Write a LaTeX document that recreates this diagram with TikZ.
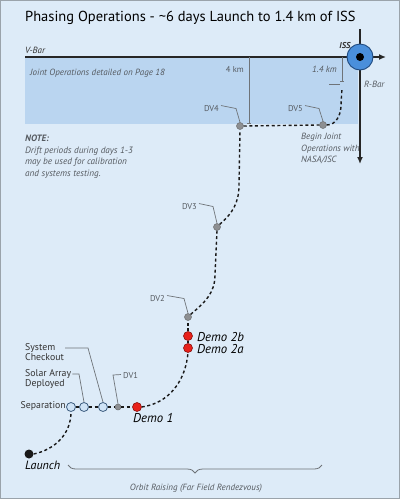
\documentclass[tikz,border=0pt]{standalone}
\usepackage{fontspec}
\setmainfont{PT Sans}
\usetikzlibrary{arrows.meta,decorations.pathreplacing}
\definecolor{bgblue}{HTML}{DDEBF8}
\definecolor{shadeblue}{HTML}{BAD5F0}
\definecolor{frame}{HTML}{9AA3AB}
\definecolor{issblue}{HTML}{4A8FDB}
\definecolor{issedge}{HTML}{1F4A80}
\definecolor{dotgray}{HTML}{8D8F92}
\definecolor{dotedge}{HTML}{6B6D70}
\definecolor{demored}{HTML}{E8211B}
\definecolor{rededge}{HTML}{8A1410}
\definecolor{lightdot}{HTML}{CFE3F6}
\definecolor{lightedge}{HTML}{3E5E80}
\definecolor{labgray}{HTML}{555A60}
\definecolor{leadgray}{HTML}{6E7378}
\begin{document}
\begin{tikzpicture}[x=1pt,y=-1pt,
  txt/.style={inner sep=0pt,font=\fontsize{9}{10}\selectfont\itshape,text=labgray},
  dvlab/.style={inner sep=0pt,font=\fontsize{8.5}{10}\selectfont,text=labgray},
  leftlab/.style={inner sep=0pt,font=\fontsize{9.8}{10}\selectfont,text=black!80,align=left},
  demolab/.style={inner sep=0pt,font=\fontsize{12.8}{14}\selectfont\itshape,text=black},
  leader/.style={draw=leadgray,line width=0.7pt},
  traj/.style={draw=black!90,line width=1.4pt,dash pattern=on 3pt off 2.6pt},
  graydot/.style={circle,inner sep=0pt,minimum size=7pt,fill=dotgray,draw=dotedge,line width=0.5pt},
  reddot/.style={circle,inner sep=0pt,minimum size=9pt,fill=demored,draw=rededge,line width=0.6pt},
  lightcirc/.style={circle,inner sep=0pt,minimum size=9pt,fill=lightdot,draw=lightedge,line width=0.8pt},
  blackdot/.style={circle,inner sep=0pt,minimum size=9pt,fill=black!90},
  axisline/.style={draw=black!85,line width=1.3pt,-{Latex[length=7pt,width=6pt]}}
]
\useasboundingbox (0,0) rectangle (400,499);
\fill[bgblue] (0,0) rectangle (400,499);
\draw[frame,line width=1.2pt] (0.6,0.6) rectangle (399.4,498.4);

% title
\node[inner sep=0pt,anchor=west,font=\fontsize{14.5}{16}\selectfont,text=black] (title) at (25,18)
  {Phasing Operations - \textasciitilde 6 days Launch to 1.4 km of ISS};

% shaded area
\fill[shadeblue] (25,57) rectangle (358,124);

% V-Bar
\node[txt,anchor=base west,text=black!80] (vbar) at (25,53) {V-Bar};
\coordinate (vstart) at (25,57);
\coordinate (vend) at (386,57);
\draw[axisline] (vstart) -- (vend);

% R-Bar
\coordinate (rstart) at (360,29);
\coordinate (rend) at (360,164);
\draw[axisline] (rstart) -- (rend);
\node[txt,anchor=base west,text=labgray] (rbar) at (364,87) {R-Bar};

% ISS
\node[circle,minimum size=26pt,inner sep=0pt,fill=issblue,draw=issedge,line width=0.9pt] (iss) at (360,57) {};
\node[circle,minimum size=8pt,inner sep=0pt,fill=black] (isscore) at (360,57) {};
\node[txt,anchor=base,text=black!80,font=\fontsize{8.5}{9}\selectfont\itshape\bfseries] (isslab) at (345,48) {ISS};

% joint operations text
\node[txt,anchor=base west] (joint) at (30,75) {Joint Operations detailed on Page 18};

% 4 km
\coordinate (fk1) at (249,57);
\coordinate (fk2) at (249,123);
\draw[leader,line width=0.8pt] (fk1) -- (fk2);
\draw[leader,line width=0.8pt] (247,123) -- (251,123);
\node[dvlab,anchor=base east] (fourkm) at (244,72) {4 km};

% 1.4 km
\coordinate (ok1) at (342,57);
\coordinate (ok2) at (342,81);
\draw[leader,line width=0.8pt] (ok1) -- (ok2);
\draw[leader,line width=0.8pt] (340,81) -- (344,81);
\coordinate (okt1) at (329,84);
\coordinate (okt2) at (340,84);
\draw[leader] (okt1) -- (okt2);
\node[txt,anchor=base east] (onekm) at (337,72) {1.4 km};
\coordinate (pend) at (342,88);

% note
\node[inner sep=0pt,anchor=north west,align=left,font=\fontsize{9.2}{11.6}\selectfont\itshape,text=labgray] (note) at (25,135)
  {{\bfseries NOTE:}\\Drift periods during days 1-3\\may be used for calibration\\and systems testing.};

% begin joint
\node[inner sep=0pt,anchor=north west,align=left,font=\fontsize{9}{11.6}\selectfont\itshape,text=labgray] (begin) at (301,133)
  {Begin Joint\\Operations with\\NASA/JSC};

% dots
\node[blackdot] (launch) at (29,454) {};
\node[lightcirc] (sep) at (71,407) {};
\node[lightcirc] (solar) at (84,407) {};
\node[lightcirc] (sys) at (103,407) {};
\node[graydot,minimum size=6pt] (dv1) at (118,407) {};
\node[reddot] (demo1) at (137,407) {};
\node[reddot] (demo2a) at (188,348) {};
\node[reddot] (demo2b) at (188,336) {};
\node[graydot] (dv2) at (188,317) {};
\node[graydot] (dv3) at (217,227) {};
\node[graydot] (dv4) at (240,126) {};
\node[graydot] (dv5) at (323,125) {};

% trajectory
\draw[traj] (launch.east) to[out=12,in=-90] (sep.south);
\draw[traj] (sep.east) -- (solar.west);
\draw[traj] (solar.east) -- (sys.west);
\draw[traj] (sys.east) -- (dv1.west);
\draw[traj] (dv1.east) -- (demo1.west);
\draw[traj] (demo1.east) to[out=8,in=-95] (demo2a.south);
\draw[traj] (demo2a.north) -- (demo2b.south);
\draw[traj] (demo2b.north) -- (dv2.south);
\draw[traj] (dv2.north east) to[out=40,in=-90] (215,275) -- (dv3.south);
\draw[traj] (dv3.north east) to[out=40,in=-90] (239,185) -- (dv4.south);
\draw[traj] (dv4.east) -- (dv5.west);
\draw[traj] (dv5.east) to[out=0,in=-90] (341,105) -- (pend);

% labels
\node[dvlab,anchor=base east] (dv4lab) at (219,111) {DV4};
\draw[leader] (dv4lab.east) ++(2,-2.5) -- (236,108.5) -- (dv4.north);
\node[dvlab,anchor=base east] (dv5lab) at (303,111) {DV5};
\draw[leader] (dv5lab.east) ++(2,-2.5) -- (319,108.5) -- (dv5.north);
\node[dvlab,anchor=base east] (dv3lab) at (197,209) {DV3};
\draw[leader] (dv3lab.east) ++(2,-2.5) -- (213,206.5) -- (dv3.north);
\node[dvlab,anchor=base east] (dv2lab) at (165,301) {DV2};
\draw[leader] (dv2lab.east) ++(2,-2.5) -- (184,298.5) -- (dv2.north);
\node[dvlab,anchor=base west] (dv1lab) at (123,378) {DV1};
\draw[leader] (dv1lab.west) ++(-2,-0.5) -- (113,375) -- (dv1.north);

\node[demolab,anchor=base west] (d2b) at (197,341) {Demo 2b};
\node[demolab,anchor=base west] (d2a) at (197,353) {Demo 2a};
\node[demolab,anchor=base west] (d1) at (133,422) {Demo 1};
\node[demolab,anchor=base west,font=\fontsize{12}{14}\selectfont\itshape] (launchlab) at (25,469) {Launch};

\node[leftlab,anchor=north west] (syslab) at (25,343) {System\\Checkout};
\draw[leader] (syslab.north east) ++(1,5) -- (88,348) -- (sys.north);
\node[leftlab,anchor=north west] (solarlab) at (25,369) {Solar Array\\Deployed};
\draw[leader] (solarlab.north east) ++(1,5) -- (79,374) -- (solar.north);
\node[leftlab,anchor=east] (seplab) at (66,406) {Separation};

% brace
\draw[decorate,decoration={brace,amplitude=8pt,mirror},draw=leadgray,line width=0.8pt] (68,465) -- (322,465);
\node[txt,anchor=base] (orbit) at (196,490) {Orbit Raising (Far Field Rendezvous)};
\end{tikzpicture}
\end{document}
